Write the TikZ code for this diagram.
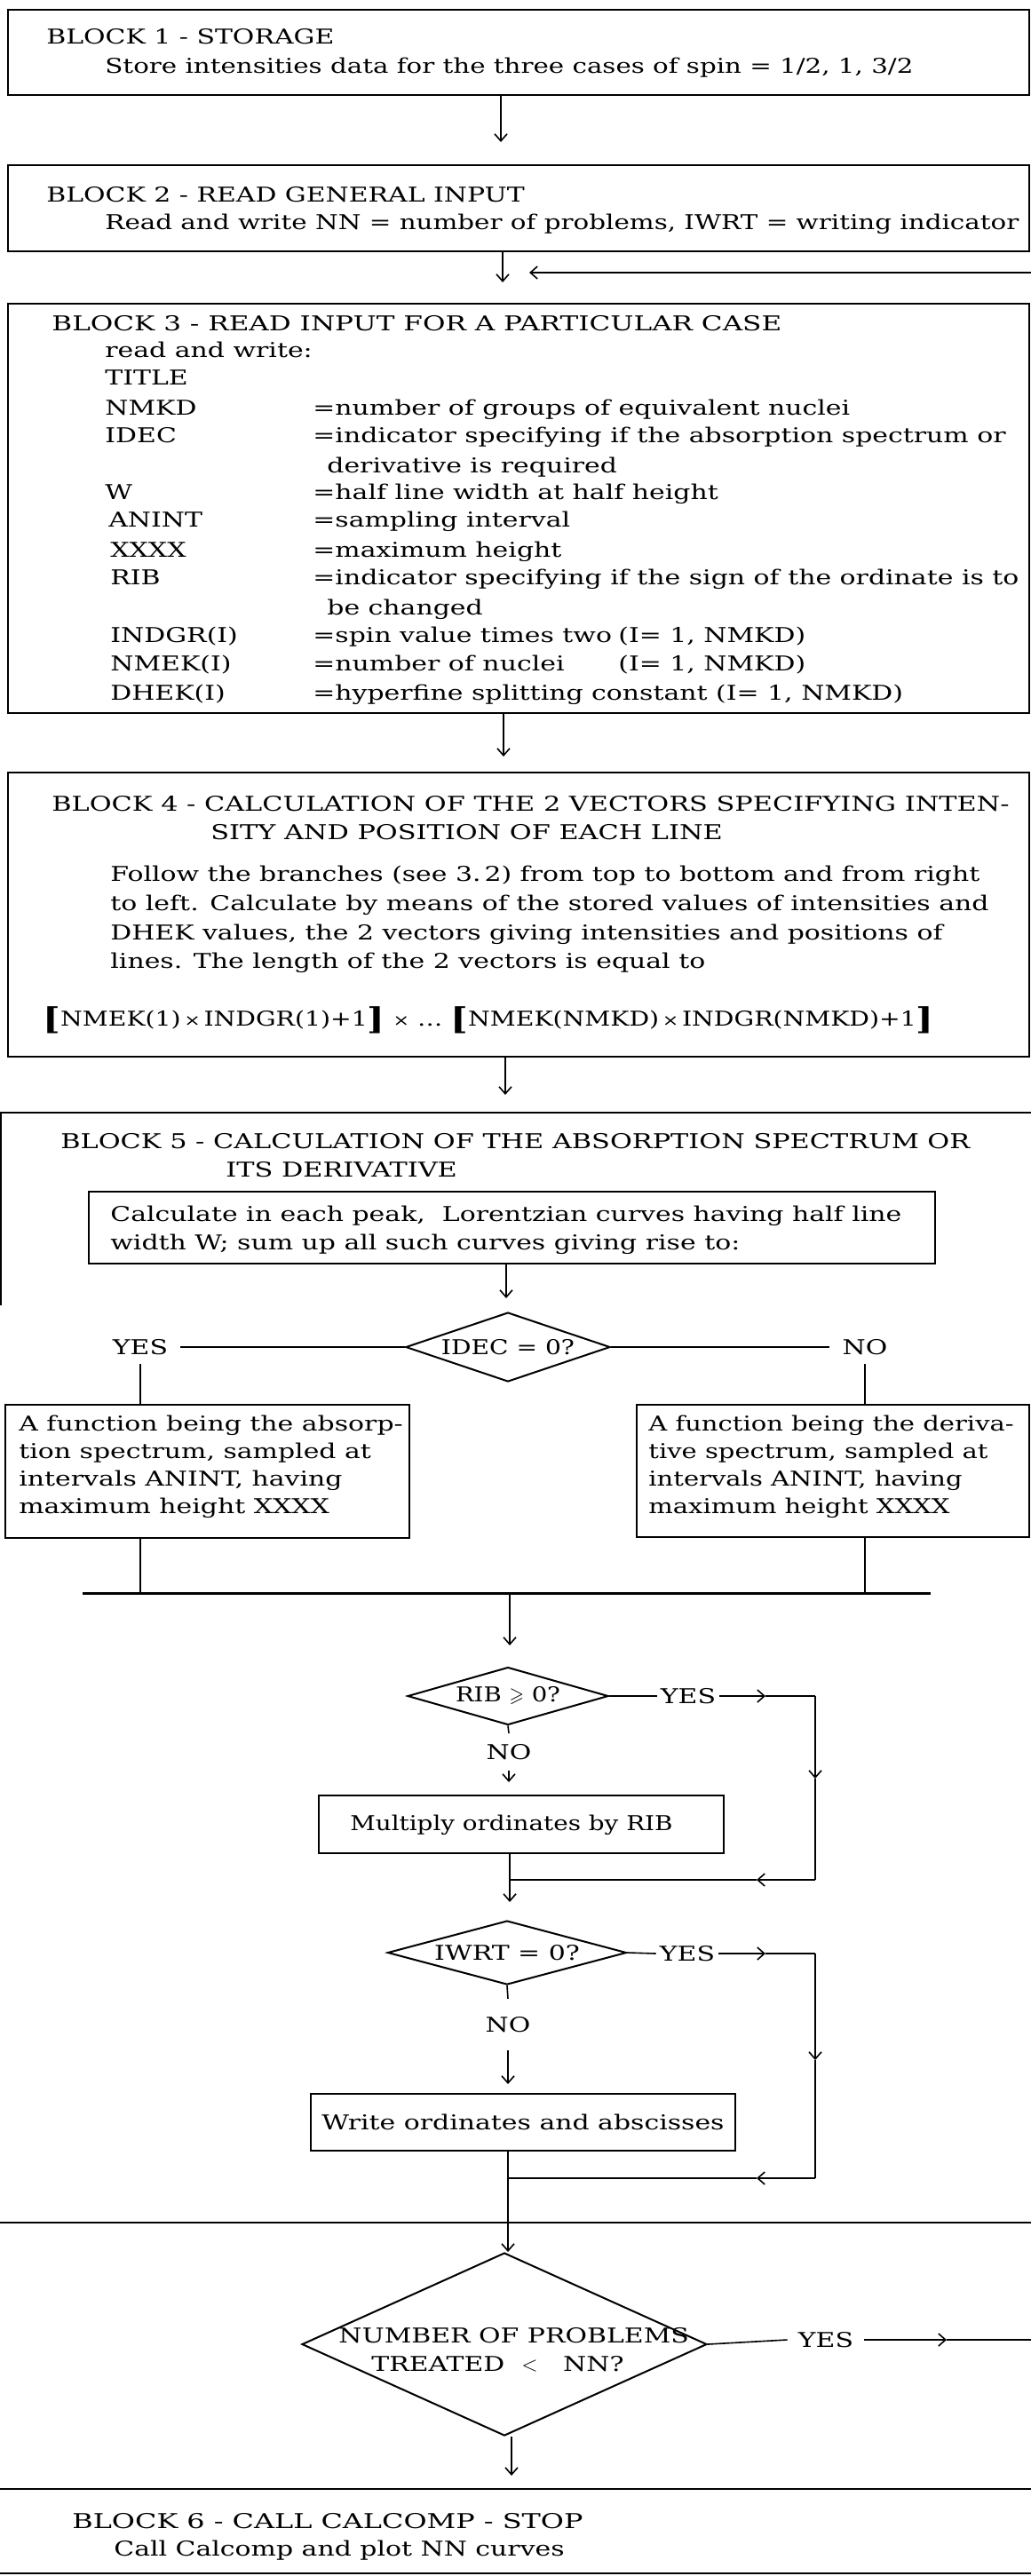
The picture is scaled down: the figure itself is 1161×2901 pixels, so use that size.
\documentclass[tikz,border=0pt]{standalone}
\usepackage{fontspec}
\usepackage{amssymb}
\usepackage{graphicx}
\setmainfont{DejaVu Serif}[FakeStretch=1.3]
\usetikzlibrary{arrows.meta,shapes.geometric,fit}
\newcommand\bigbrk[1]{{\fontsize{17}{17}\selectfont\bfseries\raisebox{-2pt}{#1}}}
\newcommand\hsc[2]{\scalebox{#1}[1]{#2}}
\tikzset{
  box/.style={draw, line width=1pt, inner sep=0pt},
  frame/.style={line width=1pt},
  conn/.style={line width=0.8pt},
  arr/.style={conn, -{Straight Barb[length=4pt,width=7pt]}},
  txt/.style={anchor=base west, inner sep=0pt},
  lbl/.style={inner xsep=7pt, inner ysep=5pt},
  dia/.style={draw, diamond, line width=1pt, inner sep=0pt},
}
\begin{document}
\begin{tikzpicture}[x=0.5pt,y=-0.5pt,every node/.append style={font=\fontsize{11.5}{14}\selectfont}]
\useasboundingbox (0,0) rectangle (1161,2901);

% ---------- Block 1
\node[box, fit={(9,11) (1159,107)}] (b1) {};
\node[txt] (t1a) at (52,50) {BLOCK 1 - STORAGE};
\node[txt] (t1b) at (118,83) {\hsc{0.98}{Store intensities data for the three cases of spin = 1/2, 1, 3/2}};
\coordinate (e1) at (564,160);
\draw[arr] (b1.south -| e1) -- (e1);

% ---------- Block 2
\node[box, fit={(9,186) (1159,283)}] (b2) {};
\node[txt] (t2a) at (52,227) {BLOCK 2 - READ GENERAL INPUT};
\node[txt] (t2b) at (118,258) {\hsc{0.982}{Read and write NN = number of problems, IWRT = writing indicator}};
\coordinate (e2) at (566,318);
\draw[arr] (b2.south -| e2) -- (e2);
\coordinate (ret) at (1161,307);
\coordinate (retend) at (596,307);
\draw[arr] (ret) -- (retend);

% ---------- Block 3
\node[box, fit={(9,342) (1159,803)}] (b3) {};
\node[txt] (t3a) at (58,372) {\hsc{1.04}{BLOCK 3 - READ INPUT FOR A PARTICULAR CASE}};
\node[txt] (t3b) at (118,402) {read and write:};
\node[txt] (t3c) at (118,433) {TITLE};
\node[txt] (k1) at (118,467) {NMKD};
\node[txt] (v1) at (352,467) {=number of groups of equivalent nuclei};
\node[txt] (k2) at (118,498) {IDEC};
\node[txt] (v2) at (352,498) {=indicator specifying if the absorption spectrum or};
\node[txt] (v2b) at (368,532) {derivative is required};
\node[txt] (k3) at (118,562) {W};
\node[txt] (v3) at (352,562) {=half line width at half height};
\node[txt] (k4) at (122,593) {ANINT};
\node[txt] (v4) at (352,593) {=sampling interval};
\node[txt] (k5) at (124,627) {XXXX};
\node[txt] (v5) at (352,627) {=maximum height};
\node[txt] (k6) at (124,658) {RIB};
\node[txt] (v6) at (352,658) {=indicator specifying if the sign of the ordinate is to};
\node[txt] (v6b) at (368,692) {be changed};
\node[txt] (k7) at (124,723) {INDGR(I)};
\node[txt] (v7) at (352,723) {=spin value times two};
\node[txt] (r7) at (696,723) {(I= 1, NMKD)};
\node[txt] (k8) at (124,755) {NMEK(I)};
\node[txt] (v8) at (352,755) {=number of nuclei};
\node[txt] (r8) at (696,755) {(I= 1, NMKD)};
\node[txt] (k9) at (124,788) {DHEK(I)};
\node[txt] (v9) at (352,788) {=hyperfine splitting constant (I= 1, NMKD)};
\coordinate (e3) at (567,852);
\draw[arr] (b3.south -| e3) -- (e3);

% ---------- Block 4
\node[box, fit={(9,870) (1159,1190)}] (b4) {};
\node[txt] (t4a) at (58,913) {\hsc{1.015}{BLOCK 4 - CALCULATION OF THE 2 VECTORS SPECIFYING INTEN-}};
\node[txt] (t4b) at (237,945) {\hsc{1.015}{SITY AND POSITION OF EACH LINE}};
\node[txt] (p1) at (124,992) {Follow the branches (see 3.\,2) from top to bottom and from right};
\node[txt] (p2) at (124,1025) {to left. Calculate by means of the stored values of intensities and};
\node[txt] (p3) at (124,1058) {DHEK values, the 2 vectors giving intensities and positions of};
\node[txt] (p4) at (124,1090) {lines. The length of the 2 vectors is equal to};
\node[txt] (f4) at (48,1155) {\hsc{0.946}{\bigbrk{[}NMEK(1)\,{\small ×}\,INDGR(1)+1\bigbrk{]}\ {\small ×}\ \dots\ \bigbrk{[}NMEK(NMKD)\,{\small ×}\,INDGR(NMKD)+1\bigbrk{]}}};
\coordinate (e4) at (569,1233);
\draw[arr] (b4.south -| e4) -- (e4);

% ---------- Block 5
\draw[frame] (0,1253) -- (1161,1253);
\draw[frame] (1,1253) -- (1,1470);
\node[txt] (t5a) at (68,1293) {\hsc{1.015}{BLOCK 5 - CALCULATION OF THE ABSORPTION SPECTRUM OR}};
\node[txt] (t5b) at (254,1325) {\hsc{1.015}{ITS DERIVATIVE}};
\node[box, line width=1.4pt, fit={(100,1342) (1053,1423)}] (c1) {};
\node[txt] (c1a) at (124,1375) {Calculate in each peak,\ \ Lorentzian curves having half line};
\node[txt] (c1b) at (124,1407) {width W; sum up all such curves giving rise to:};
\node[dia, aspect=3, minimum width=115pt, minimum height=39pt] (d1) at (572,1517) {\hsc{0.94}{IDEC = 0?}};
\coordinate (e5) at (570,1462);
\draw[arr] (c1.south -| e5) -- (e5);
\node[lbl] (yes1) at (158,1517) {YES};
\node[lbl] (no1) at (974,1517) {NO};
\draw[conn] (d1.west) -- (yes1.east);
\draw[conn] (d1.east) -- (no1.west);

\node[box, fit={(6,1582) (461,1732)}] (a1) {};
\node[txt] (a1a) at (21,1611) {A function being the absorp-};
\node[txt] (a1b) at (21,1642) {tion spectrum, sampled at};
\node[txt] (a1c) at (21,1673) {intervals ANINT,\ having};
\node[txt] (a1d) at (21,1704) {maximum height XXXX};
\node[box, fit={(717,1582) (1159,1731)}] (a2) {};
\node[txt] (a2a) at (730,1611) {\hsc{0.97}{A function being the deriva-}};
\node[txt] (a2b) at (730,1642) {\hsc{0.97}{tive spectrum, sampled at}};
\node[txt] (a2c) at (730,1673) {\hsc{0.97}{intervals ANINT,\ having}};
\node[txt] (a2d) at (730,1704) {\hsc{0.97}{maximum height XXXX}};
\draw[conn] (yes1.south) -- (yes1.south |- a1.north);
\draw[conn] (no1.south) -- (no1.south |- a2.north);

\coordinate (barL) at (93,1794);
\coordinate (barR) at (1048,1794);
\draw[line width=1.5pt] (barL) -- (barR);
\draw[conn] (a1.south -| yes1) -- (barL -| yes1);
\draw[conn] (a2.south -| no1) -- (barL -| no1);
\coordinate (e6) at (574,1853);
\draw[arr] (barL -| e6) -- (e6);

% RIB decision
\node[dia, aspect=3.5, minimum width=113pt, minimum height=32.5pt] (d2) at (572,1910) {\hsc{0.92}{RIB $\geqslant$ 0?}};
\node[lbl, inner xsep=2pt] (yes2) at (775,1910) {YES};
\draw[conn] (d2.east) -- (yes2.west);
\coordinate (m2a) at (862,1910);
\coordinate (c2a) at (918,1910);
\coordinate (m2b) at (918,2003);
\coordinate (c2b) at (918,2117);
\coordinate (m2c) at (852,2117);
\coordinate (j2) at (574,2117);
\draw[arr] (yes2.east) -- (m2a);
\draw[conn] (m2a) -- (c2a);
\draw[arr] (c2a) -- (m2b);
\draw[conn] (m2b) -- (c2b);
\draw[arr] (c2b) -- (m2c);
\draw[conn] (m2c) -- (j2);
\node[lbl, inner ysep=6pt] (no2) at (573,1973) {NO};
\draw[conn] (d2.south) -- (no2.north);
\node[box, fit={(359,2022) (815,2087)}] (m1) {};
\node (m1t) at (576,2055) {\hsc{0.93}{Multiply ordinates by RIB}};
\draw[arr] (no2.south) -- ([yshift=7pt]no2.south |- m1.north);
\coordinate (e7) at (574,2142);
\draw[arr] (m1.south -| e7) -- (e7);

% IWRT decision
\node[dia, aspect=3.7, minimum width=134.5pt, minimum height=36pt] (d3) at (571,2199) {IWRT = 0?};
\node[lbl, inner xsep=2pt] (yes3) at (774,2200) {YES};
\draw[conn] (d3.east) -- (yes3.west);
\coordinate (m3a) at (862,2200);
\coordinate (c3a) at (918,2200);
\coordinate (m3b) at (918,2320);
\coordinate (c3b) at (918,2453);
\coordinate (m3c) at (852,2453);
\coordinate (j3) at (572,2453);
\draw[arr] (yes3.east) -- (m3a);
\draw[conn] (m3a) -- (c3a);
\draw[arr] (c3a) -- (m3b);
\draw[conn] (m3b) -- (c3b);
\draw[arr] (c3b) -- (m3c);
\draw[conn] (m3c) -- (j3);
\node[lbl, inner ysep=10pt] (no3) at (572,2280) {NO};
\draw[conn] (d3.south) -- (no3.north);
\node[box, fit={(350,2358) (828,2422)}] (w1) {};
\node (w1t) at (589,2390) {Write ordinates and abscisses};
\draw[arr] (no3.south) -- ([yshift=5pt]no3.south |- w1.north);

% end of block 5
\draw[frame] (0,2503) -- (1161,2503);

% ---------- Problems decision
\node[dia, minimum width=228pt, minimum height=103pt] (d4) at (568,2640) {};
\node[txt] (d4a) at (381,2638) {NUMBER OF PROBLEMS};
\node[txt] (d4b) at (418,2670) {TREATED\ \ $<$\ \ \ NN?};
\draw[arr] (w1.south -| j3) -- (d4.north -| j3);
\node[lbl, inner xsep=6pt] (yes4) at (930,2635) {YES};
\draw[conn] (d4.east) -- (yes4.west);
\coordinate (m4) at (1066,2635);
\coordinate (out4) at (1161,2635);
\draw[arr] (yes4.east) -- (m4);
\draw[conn] (m4) -- (out4);
\coordinate (e8) at (576,2788);
\draw[arr] (d4.south -| e8) -- (e8);

% ---------- Block 6
\draw[frame] (0,2803) -- (1161,2803);
\node[txt] (t6a) at (81,2847) {\hsc{1.066}{BLOCK 6 - CALL CALCOMP - STOP}};
\node[txt] (t6b) at (128,2878) {Call Calcomp and plot NN curves};
\draw[frame] (0,2898) -- (1161,2898);
\end{tikzpicture}
\end{document}
